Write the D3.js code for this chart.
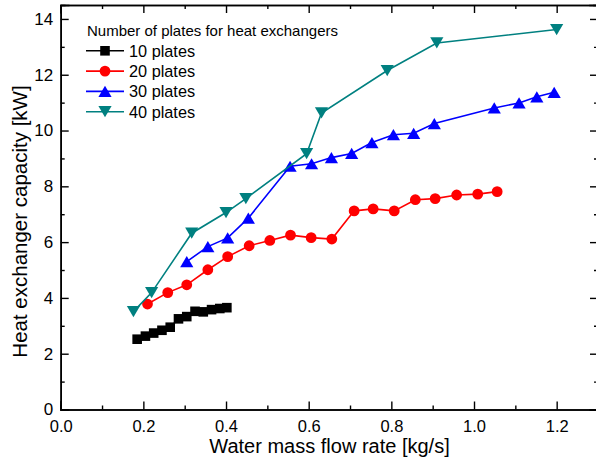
<!DOCTYPE html>
<html>
<head>
<meta charset="utf-8">
<script src="https://cdn.jsdelivr.net/npm/d3@7"></script>
<style>
  body { margin: 0; background: #fff; }
  svg { display: block; font-family: Arial, "Liberation Sans", sans-serif; }
</style>
</head>
<body>
<div id="display"></div>
<script>
// values
const flow10 = [0.185, 0.205, 0.225, 0.245, 0.265, 0.285, 0.305, 0.325, 0.345, 0.365, 0.385, 0.402];
const cap10  = [2.52, 2.63, 2.74, 2.84, 2.95, 3.25, 3.33, 3.52, 3.50, 3.58, 3.62, 3.65];

const flow20 = [0.21, 0.259, 0.305, 0.356, 0.404, 0.456, 0.506, 0.556, 0.606, 0.656, 0.71, 0.756, 0.807, 0.858, 0.906, 0.958, 1.009, 1.056];
const cap20  = [3.78, 4.19, 4.47, 5.01, 5.48, 5.87, 6.06, 6.25, 6.16, 6.11, 7.12, 7.19, 7.12, 7.52, 7.56, 7.69, 7.72, 7.81];

const flow30 = [0.305, 0.356, 0.404, 0.454, 0.555, 0.607, 0.655, 0.704, 0.753, 0.805, 0.854, 0.904, 1.049, 1.109, 1.152, 1.194];
const cap30  = [5.30, 5.84, 6.15, 6.86, 8.72, 8.81, 9.03, 9.18, 9.57, 9.85, 9.90, 10.25, 10.81, 10.99, 11.21, 11.37];

const flow40 = [0.176, 0.22, 0.317, 0.40, 0.448, 0.595, 0.631, 0.79, 0.91, 1.20];
const cap40  = [3.51, 4.19, 6.32, 7.06, 7.56, 9.17, 10.63, 12.15, 13.14, 13.62];

const seriesNames = ["10 plates", "20 plates", "30 plates", "40 plates"];
const legendTitle = "Number of plates for heat exchangers";
const xTicks = [0.0, 0.2, 0.4, 0.6, 0.8, 1.0, 1.2];
const xMinor = [0.1, 0.3, 0.5, 0.7, 0.9, 1.1, 1.3];
const yTicks = [0, 2, 4, 6, 8, 10, 12, 14];
const yMinor = [1, 3, 5, 7, 9, 11, 13];
const xTitle = "Water mass flow rate [kg/s]";
const yTitle = "Heat exchanger capacity [kW]";

const series = [
    { name: seriesNames[0], x: flow10, y: cap10, color: "#000000", marker: "square" },
    { name: seriesNames[1], x: flow20, y: cap20, color: "#ff0000", marker: "circle" },
    { name: seriesNames[2], x: flow30, y: cap30, color: "#0000ff", marker: "up" },
    { name: seriesNames[3], x: flow40, y: cap40, color: "#008080", marker: "down" }
];

const width = 596, height = 463;
const plotLeft = 60.7, plotRight = 598, plotTop = 5, plotBottom = 409.5;

const svg = d3.select("#display").append("svg")
    .attr("width", width)
    .attr("height", height);

const x = d3.scaleLinear().domain([0, 1.3]).range([plotLeft, plotRight]);
const y = d3.scaleLinear().domain([0, 14.5]).range([plotBottom, plotTop]);

// marker path, centred on (cx, cy)
function markerPath(type, cx, cy) {
    if (type === "square") {
        const h = 4.8;
        return `M${cx - h},${cy - h}H${cx + h}V${cy + h}H${cx - h}Z`;
    }
    if (type === "circle") {
        const r = 5.4;
        return `M${cx - r},${cy}A${r},${r} 0 1,0 ${cx + r},${cy}A${r},${r} 0 1,0 ${cx - r},${cy}Z`;
    }
    const w = 6.6, h = 5.6;
    if (type === "up") return `M${cx},${cy - h}L${cx + w},${cy + h}L${cx - w},${cy + h}Z`;
    return `M${cx},${cy + h}L${cx + w},${cy - h}L${cx - w},${cy - h}Z`;
}

// axes, ticks pointing inwards on all four sides
function drawAxis(axisFn, scale, translate, major, minor, labels) {
    const g = svg.append("g").attr("transform", translate);
    g.call(axisFn(scale).tickValues(minor).tickSize(-4).tickFormat(""));
    const gm = svg.append("g").attr("transform", translate);
    gm.call(axisFn(scale).tickValues(major).tickSize(-8).tickPadding(labels ? 12 : 0)
        .tickFormat(labels ? labels : ""));
    [g, gm].forEach(a => {
        a.selectAll("path.domain").attr("stroke", "#000").attr("stroke-width", 1.6);
        a.selectAll(".tick line").attr("stroke", "#000").attr("stroke-width", 1.4);
    });
    return gm;
}

const bx = drawAxis(d3.axisBottom, x, `translate(0,${plotBottom})`, xTicks, xMinor, d3.format(".1f"));
bx.selectAll(".tick text").attr("font-size", 16.5).attr("fill", "#000").attr("dy", "0.71em").attr("y", 10.5);
drawAxis(d3.axisTop, x, `translate(0,${plotTop})`, xTicks, xMinor, null);
const ly = drawAxis(d3.axisLeft, y, `translate(${plotLeft},0)`, yTicks, yMinor, d3.format("d"));
ly.selectAll(".tick text").attr("font-size", 17).attr("fill", "#000").attr("x", -7.5);
drawAxis(d3.axisRight, y, `translate(${plotRight},0)`, yTicks, yMinor, null);

svg.selectAll(".domain").attr("stroke-linecap", "square");

// axis titles
svg.append("text")
    .attr("x", (205 + 454) / 2)
    .attr("y", 453)
    .attr("text-anchor", "middle")
    .attr("font-size", 20)
    .text(xTitle);

svg.append("text")
    .attr("transform", "translate(27,221.5) rotate(-90)")
    .attr("text-anchor", "middle")
    .attr("font-size", 20.5)
    .text(yTitle);

// series
const line = d3.line().x(d => x(d[0])).y(d => y(d[1]));

series.forEach(s => {
    const pts = s.x.map((v, i) => [v, s.y[i]]);
    const g = svg.append("g");
    g.append("path")
        .attr("d", line(pts))
        .attr("fill", "none")
        .attr("stroke", s.color)
        .attr("stroke-width", 1.6);
    g.selectAll("path.mk")
        .data(pts)
        .enter()
        .append("path")
        .attr("class", "mk")
        .attr("d", d => markerPath(s.marker, x(d[0]), y(d[1])))
        .attr("fill", s.color);
});

// legend
const legend = svg.append("g");
legend.append("text")
    .attr("x", 87)
    .attr("y", 35.5)
    .attr("font-size", 15)
    .text(legendTitle);

series.forEach((s, i) => {
    const cy = 50.8 + i * 20.3;
    legend.append("line")
        .attr("x1", 86).attr("x2", 124)
        .attr("y1", cy).attr("y2", cy)
        .attr("stroke", s.color)
        .attr("stroke-width", 1.6);
    legend.append("path")
        .attr("d", markerPath(s.marker, 105, cy))
        .attr("fill", s.color);
    legend.append("text")
        .attr("x", 129)
        .attr("y", cy)
        .attr("dy", "0.36em")
        .attr("font-size", 16.3)
        .text(s.name);
});
</script>
</body>
</html>
